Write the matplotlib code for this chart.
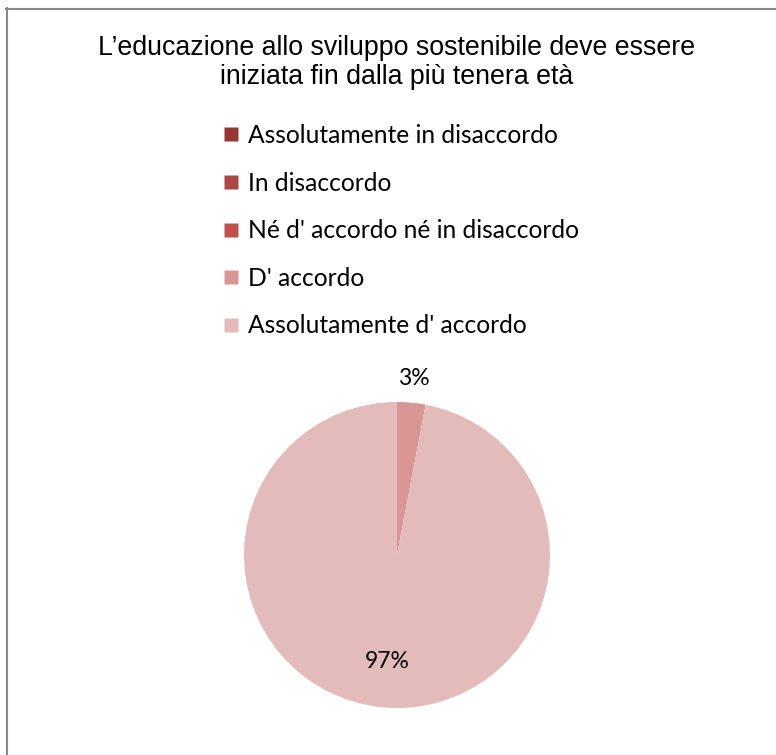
import numpy as np
import matplotlib
matplotlib.use("Agg")
import matplotlib.pyplot as plt
from matplotlib.lines import Line2D

title = "L\u2019educazione allo sviluppo sostenibile deve essere\niniziata fin dalla più tenera età"
categories = ["Assolutamente in disaccordo", "In disaccordo",
              "Né d' accordo né in disaccordo", "D' accordo",
              "Assolutamente d' accordo"]
values = [0, 0, 0, 3, 97]
colors = ["#953735", "#AD4644", "#C0504D", "#D99694", "#E3BBBB"]

W, H = 776, 755
fig = plt.figure(figsize=(W / 100, H / 100), dpi=100)

# outer frame lines (left and top only visible)
fig.add_artist(Line2D([6.5 / W, 6.5 / W], [0, 1 - 8 / H], transform=fig.transFigure,
                      color="#898989", lw=1.5))
fig.add_artist(Line2D([6 / W, 1], [1 - 8.5 / H, 1 - 8.5 / H], transform=fig.transFigure,
                      color="#898989", lw=1.5))

fig.text(397 / W, 1 - 62.5 / H, title, ha="center", va="center", fontsize=19.3,
         family="Liberation Sans", color="#000000", linespacing=1.12)

cx, cy, r = 397, 555, 153
ax = fig.add_axes([(cx - r) / W, (H - cy - r) / H, 2 * r / W, 2 * r / H])
wedges, _ = ax.pie(values, colors=colors, startangle=90, counterclock=False,
                   wedgeprops=dict(edgecolor="none"))
ax.set_xlim(-1, 1)
ax.set_ylim(-1, 1)
ax.set_aspect("equal")

dists = {3: 1.16, 4: 0.70}
for i, (w, v) in enumerate(zip(wedges, values)):
    if v == 0:
        continue
    ang = np.deg2rad((w.theta1 + w.theta2) / 2)
    d = dists.get(i, 0.7)
    ax.text(d * np.cos(ang), d * np.sin(ang), f"{v}%", ha="center", va="center",
            fontsize=16.5, family="Lato", color="#000000", clip_on=False)

handles = [Line2D([], [], marker="s", linestyle="none", markersize=10.5,
                  markerfacecolor=c, markeredgecolor="none") for c in colors]
fig.legend(handles, categories, loc="upper left",
           bbox_to_anchor=(222 / W, 1 - 124 / H), frameon=False,
           prop=dict(family="Lato", size=17.7), labelspacing=1.0,
           handlelength=0.7, handletextpad=0.35, borderpad=0, borderaxespad=0)

fig.savefig("out.png", dpi=100, facecolor="white")
